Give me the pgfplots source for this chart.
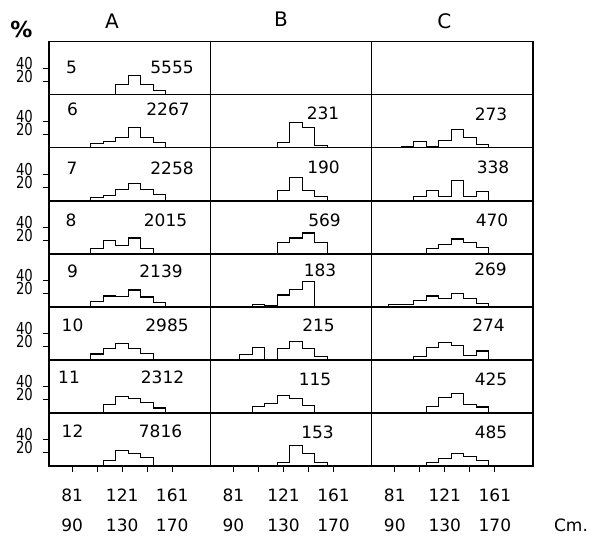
\documentclass[border=0pt]{standalone}
\usepackage{fontspec}
\setmainfont{DejaVu Sans}
\usepackage{graphicx}
\usepackage{pgfplots}
\pgfplotsset{compat=1.18}
\usepgfplotslibrary{groupplots}
\newcommand{\ylab}[1]{\scalebox{0.8}[1]{\fontsize{16.5}{16.5}\selectfont #1}}
\pgfplotsset{
  panel/.style={
    width=161.33pt, height=53.04pt, scale only axis,
    xmin=67, xmax=196, ymin=0, ymax=80,
    xtick=\empty, ytick=\empty,
    axis line style={line width=1.4pt},
    clip=false,
    tick align=outside, major tick length=6pt,
    tick style={black, line width=1.2pt},
    tick pos=left,
  },
  hist/.style={const plot, black, line width=1.1pt, mark=none},
  lefttick/.style={ytick={20,40},
    yticklabels={{\ylab{20}},{\ylab{40}}},
    yticklabel style={inner sep=0pt, yshift=5pt, xshift=-10pt}},
  bottick/.style={xtick={85.5,105.5,125.5,145.5,165.5},
    xticklabels={{81\\[10pt]90},{},{121\\[10pt]130},{},{161\\[10pt]170}},
    xticklabel style={font=\fontsize{17}{20}\selectfont, align=center, yshift=-13.5pt}},
}
\tikzset{num/.style={font=\fontsize{17}{20}\selectfont, inner sep=0pt}}
\begin{document}
\begin{tikzpicture}
\begin{groupplot}[group style={group size=3 by 8, horizontal sep=0pt, vertical sep=0pt}, panel]
% ---------- row 1 (5)
\nextgroupplot[lefttick]
\coordinate (tl) at (rel axis cs:0,1);
\addplot[hist] coordinates {(120.5,0) (120.5,16) (130.5,29) (140.5,16) (150.5,7) (160.5,0)};
\node[num] at (axis cs:85.0,41) {5};
\node[num] at (axis cs:165.4,41) {5555};
\node[font=\fontsize{20}{20}\selectfont, inner sep=0pt, yshift=20.7pt] at (axis cs:117.4,80) {A};
\node[font=\fontsize{22}{22}\selectfont\bfseries, inner sep=0pt, xshift=-27.5pt, yshift=12.7pt] at (rel axis cs:0,1) {\%};
\nextgroupplot
\node[font=\fontsize{20}{20}\selectfont, inner sep=0pt, yshift=22.7pt] at (axis cs:123.5,80) {B};
\nextgroupplot
\node[font=\fontsize{20}{20}\selectfont, inner sep=0pt, yshift=20.7pt] at (axis cs:125.2,80) {C};
% ---------- row 2 (6)
\nextgroupplot[lefttick]
\addplot[hist] coordinates {(100.5,0) (100.5,6) (110.5,10) (120.5,16) (130.5,31) (140.5,15) (150.5,8.5) (160.5,0)};
\node[num] at (axis cs:85.8,58) {6};
\node[num] at (axis cs:162.2,58) {2267};
\nextgroupplot
\addplot[hist] coordinates {(120.5,0) (120.5,8.5) (130.5,37.5) (140.5,30) (150.5,4) (160.5,0)};
\node[num] at (axis cs:157.1,51.5) {231};
\nextgroupplot
\addplot[hist] coordinates {(90.5,0) (90.5,2.5) (100.5,9) (110.5,2.5) (120.5,11) (130.5,27.5) (140.5,15) (150.5,5) (160.5,0)};
\node[num] at (axis cs:162.4,51) {273};
% ---------- row 3 (7)
\nextgroupplot[lefttick]
\addplot[hist] coordinates {(100.5,0) (100.5,5) (110.5,8.5) (120.5,16.5) (130.5,26.5) (140.5,17.5) (150.5,10) (160.5,0)};
\node[num] at (axis cs:85.4,49) {7};
\node[num] at (axis cs:165.4,49) {2258};
\nextgroupplot
\addplot[hist] coordinates {(120.5,0) (120.5,16) (130.5,35) (140.5,16) (150.5,6.5) (160.5,0)};
\node[num] at (axis cs:157.5,50) {190};
\nextgroupplot
\addplot[hist] coordinates {(100.5,0) (100.5,6.5) (110.5,15) (120.5,6.5) (130.5,30.5) (140.5,6.5) (150.5,14) (160.5,0)};
\node[num] at (axis cs:164.0,50) {338};
% ---------- row 4 (8)
\nextgroupplot[lefttick]
\addplot[hist] coordinates {(100.5,0) (100.5,7.5) (110.5,20) (120.5,12.5) (130.5,24) (140.5,8.5) (150.5,0)};
\node[num] at (axis cs:84.6,50) {8};
\node[num] at (axis cs:160.2,50) {2015};
\nextgroupplot
\addplot[hist] coordinates {(120.5,0) (120.5,17.5) (130.5,24) (140.5,31.5) (150.5,17.5) (160.5,0)};
\node[num] at (axis cs:158.3,50) {569};
\nextgroupplot
\addplot[hist] coordinates {(110.5,0) (110.5,8.5) (120.5,14) (130.5,22.5) (140.5,17.5) (150.5,9) (160.5,0)};
\node[num] at (axis cs:163.2,50) {470};
% ---------- row 5 (9)
\nextgroupplot[lefttick]
\addplot[hist] coordinates {(100.5,0) (100.5,7.5) (110.5,16.5) (120.5,16) (130.5,25.5) (140.5,15) (150.5,6.5) (160.5,0)};
\node[num] at (axis cs:85.8,53) {9};
\node[num] at (axis cs:156.6,53) {2139};
\nextgroupplot
\addplot[hist] coordinates {(100.5,0) (100.5,4) (110.5,1.5) (120.5,18) (130.5,26.5) (140.5,38) (150.5,0)};
\node[num] at (axis cs:154.7,55) {183};
\nextgroupplot
\addplot[hist] coordinates {(80.5,0) (80.5,3) (90.5,3) (100.5,9) (110.5,16.5) (120.5,13) (130.5,20.5) (140.5,12.5) (150.5,5.5) (160.5,0)};
\node[num] at (axis cs:162.0,56) {269};
% ---------- row 6 (10)
\nextgroupplot[lefttick]
\addplot[hist] coordinates {(100.5,0) (100.5,9) (110.5,17.5) (120.5,25) (130.5,17.5) (140.5,10) (150.5,0)};
\node[num] at (axis cs:85.8,53) {10};
\node[num] at (axis cs:161.4,53) {2985};
\nextgroupplot
\addplot[hist] coordinates {(90.5,0) (90.5,8.5) (100.5,18.5) (110.5,0) (120.5,17.5) (130.5,27.5) (140.5,17.5) (150.5,5) (160.5,0)};
\node[num] at (axis cs:153.5,53) {215};
\nextgroupplot
\addplot[hist] coordinates {(100.5,0) (100.5,5) (110.5,18.5) (120.5,27) (130.5,22) (140.5,7) (150.5,13.5) (160.5,0)};
\node[num] at (axis cs:160.4,53) {274};
% ---------- row 7 (11)
\nextgroupplot[lefttick]
\addplot[hist] coordinates {(110.5,0) (110.5,12.5) (120.5,25) (130.5,21.5) (140.5,16) (150.5,7.5) (160.5,0)};
\node[num] at (axis cs:83.0,54) {11};
\node[num] at (axis cs:157.8,54) {2312};
\nextgroupplot
\addplot[hist] coordinates {(100.5,0) (100.5,10) (110.5,15) (120.5,26.5) (130.5,22.5) (140.5,11) (150.5,0)};
\node[num] at (axis cs:150.7,51) {115};
\nextgroupplot
\addplot[hist] coordinates {(110.5,0) (110.5,10) (120.5,23) (130.5,29) (140.5,12.5) (150.5,9) (160.5,0)};
\node[num] at (axis cs:162.4,51) {425};
% ---------- row 8 (12)
\nextgroupplot[lefttick, bottick]
\addplot[hist] coordinates {(110.5,0) (110.5,8.5) (120.5,23.5) (130.5,18.5) (140.5,12.5) (150.5,0)};
\node[num] at (axis cs:85.8,52) {12};
\node[num] at (axis cs:156.2,52) {7816};
\nextgroupplot[bottick]
\addplot[hist] coordinates {(120.5,0) (120.5,6) (130.5,31) (140.5,19) (150.5,6) (160.5,0)};
\node[num] at (axis cs:152.7,51) {153};
\nextgroupplot[bottick]
\coordinate (br) at (rel axis cs:1,0);
\addplot[hist] coordinates {(110.5,0) (110.5,5) (120.5,12) (130.5,18.5) (140.5,15) (150.5,8.5) (160.5,0)};
\node[num] at (axis cs:162.4,51.5) {485};
\node[num, xshift=38pt, yshift=-59pt] at (rel axis cs:1,0) {Cm.};
\end{groupplot}
\path ([shift={(-49pt,41.7pt)}]tl) rectangle ([shift={(62pt,-75pt)}]br);
\end{tikzpicture}
\end{document}
